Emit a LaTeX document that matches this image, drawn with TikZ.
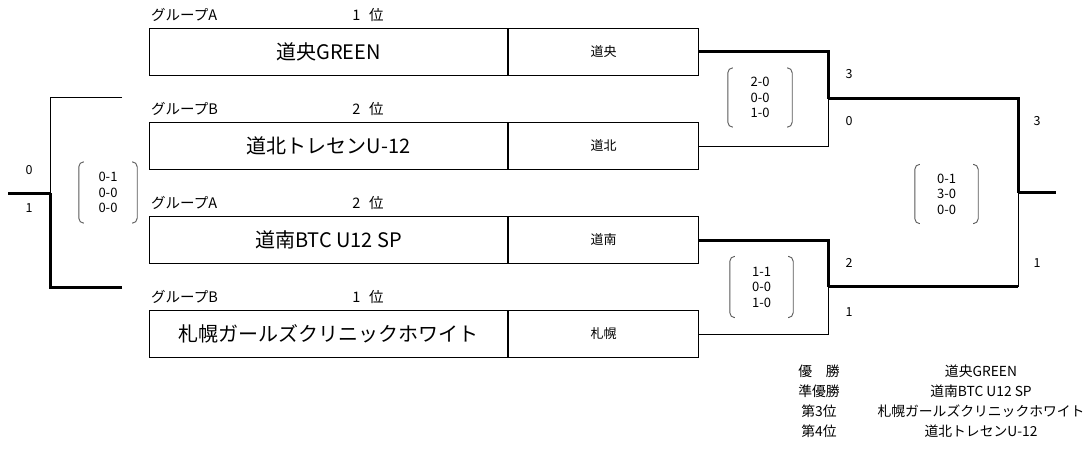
\documentclass[tikz,border=0pt]{standalone}
\usepackage{fontspec}
\setmainfont{Noto Sans CJK JP}
\begin{document}
\begin{tikzpicture}[x=1pt,y=-1pt,
  namebox/.style={draw, line width=1pt, minimum width=358pt, minimum height=47pt, inner sep=0pt, anchor=north west, font=\fontsize{20}{20}\selectfont},
  cellbox/.style={draw, line width=1pt, minimum width=190pt, minimum height=47pt, inner sep=0pt, anchor=north west, font=\fontsize{13}{13}\selectfont},
  grp/.style={anchor=west, inner sep=0pt, font=\fontsize{14.5}{14.5}\selectfont},
  rank/.style={inner sep=0pt, font=\fontsize{14.5}{14.5}\selectfont},
  score/.style={align=center, inner sep=0pt, font=\fontsize{13}{15.5}\selectfont},
  num/.style={inner sep=0pt, font=\fontsize{12.5}{12.5}\selectfont},
  legend/.style={inner sep=0pt, font=\fontsize{13.8}{13.8}\selectfont},
  thinline/.style={line width=1pt, black},
  thickline/.style={line width=3pt, black},
  brk/.style={line width=0.9pt, black!65, rounded corners=5pt}
]
\useasboundingbox (0,0) rectangle (1086,452);
\fill[white] (0,0) rectangle (1086,452);

% group / rank labels
\node[grp] (g1) at (151,15) {グループA};
\node[rank] (r1) at (368,15) {1\hspace{0.6em}位};
\node[grp] (g2) at (151,109) {グループB};
\node[rank] (r2) at (368,109) {2\hspace{0.6em}位};
\node[grp] (g3) at (151,203) {グループA};
\node[rank] (r3) at (368,203) {2\hspace{0.6em}位};
\node[grp] (g4) at (151,297) {グループB};
\node[rank] (r4) at (368,297) {1\hspace{0.6em}位};

% team boxes
\node[namebox] (t1) at (149,28) {道央GREEN};
\node[cellbox] (c1) at (t1.north east) {道央};
\node[namebox] (t2) at (149,122) {道北トレセンU-12};
\node[cellbox] (c2) at (t2.north east) {道北};
\node[namebox] (t3) at (149,216) {道南BTC U12 SP};
\node[cellbox] (c3) at (t3.north east) {道南};
\node[namebox] (t4) at (149,310) {札幌ガールズクリニックホワイト};
\node[cellbox] (c4) at (t4.north east) {札幌};

% bracket coordinates
\coordinate (s1) at (828,98.5);
\coordinate (s2) at (828,286.5);
\coordinate (f1) at (1018,98.5);
\coordinate (f2) at (1018,286.5);
\coordinate (f) at (1018,192.5);
\coordinate (win) at (1056,192.5);
\coordinate (l1) at (122,97.5);
\coordinate (l2) at (122,287);
\coordinate (lj) at (50,193);
\coordinate (lout) at (8,193);

% semifinals
\draw[thinline] (c2.east) -| (s1);
\draw[thinline] (c4.east) -| (s2);
\draw[thickline] (c1.east) -| (s1);
\draw[thickline] (c3.east) -| (s2);
% final
\draw[thinline] (f2) -- (f);
\draw[thickline] (s1) -- (f1) -- (f);
\draw[thickline] (s2) -- (f2);
\draw[thickline] (f) -- (win);
% third place
\draw[thinline] (l1) -| (lj);
\draw[thickline] (l2) -| (lj);
\draw[thickline] (lj) -- (lout);

% score brackets
\node[score, minimum width=64pt, minimum height=59pt] (m1) at (760,97.5) {2-0\\0-0\\1-0};
\node[score, minimum width=63pt, minimum height=61pt] (m2) at (761.5,287) {1-1\\0-0\\1-0};
\node[score, minimum width=63pt, minimum height=59pt] (m3) at (946.5,194) {0-1\\3-0\\0-0};
\node[score, minimum width=58pt, minimum height=61pt] (m4) at (108,192.5) {0-1\\0-0\\0-0};
\foreach \m in {m1,m2,m3,m4}{
  \draw[brk] ([xshift=5pt]\m.north west) -- (\m.north west) -- (\m.south west) -- ([xshift=5pt]\m.south west);
  \draw[brk] ([xshift=-5pt]\m.north east) -- (\m.north east) -- (\m.south east) -- ([xshift=-5pt]\m.south east);
}

% goal numbers
\node[num] (n1) at (849,74) {3};
\node[num] (n2) at (849,121) {0};
\node[num] (n3) at (849,263) {2};
\node[num] (n4) at (849,312) {1};
\node[num] (n5) at (1037,121) {3};
\node[num] (n6) at (1037,263) {1};
\node[num] (n7) at (29,170) {0};
\node[num] (n8) at (29,208) {1};

% final standings
\node[legend] (p1) at (819,371) {優　勝};
\node[legend] (q1) at (981,371) {道央GREEN};
\node[legend] (p2) at (819,391) {準優勝};
\node[legend] (q2) at (981,391) {道南BTC U12 SP};
\node[legend] (p3) at (819,411) {第3位};
\node[legend] (q3) at (981,411) {札幌ガールズクリニックホワイト};
\node[legend] (p4) at (819,431) {第4位};
\node[legend] (q4) at (981,431) {道北トレセンU-12};
\end{tikzpicture}
\end{document}
